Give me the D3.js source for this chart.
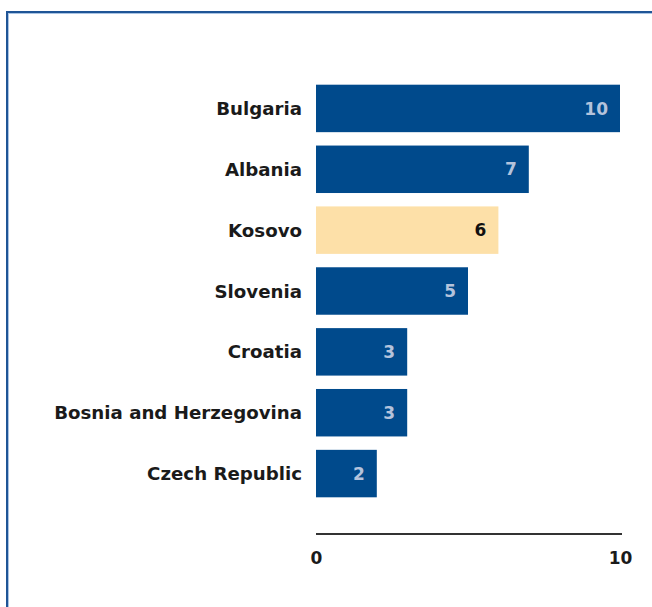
<!DOCTYPE html>
<html><head><meta charset="utf-8">
<script src="https://cdn.jsdelivr.net/npm/d3@7/dist/d3.min.js"></script>
<style>body{margin:0;background:#fff;}svg{display:block;}</style>
</head><body>
<script>
const categories = ["Bulgaria","Albania","Kosovo","Slovenia","Croatia","Bosnia and Herzegovina","Czech Republic"];
const values = [10,7,6,5,3,3,2];
const highlight = ["Kosovo"];
const tickValues = [0,10];

const W = 652, H = 607;
const svg = d3.select("body").append("svg").attr("width", W).attr("height", H);
// frame
svg.append("rect").attr("x",7).attr("y",12).attr("width",W).attr("height",H).attr("fill","none").attr("stroke","#1f5596").attr("stroke-width",2);
svg.append("rect").attr("x",8.5).attr("y",13.5).attr("width",W).attr("height",H).attr("fill","none").attr("stroke","#a9c4e4").attr("stroke-width",1);

const x = d3.scaleLinear().domain([0,10]).range([316,620]);
const y = d3.scaleBand().domain(categories).range([78,504]).paddingInner(0.22).paddingOuter(0.11);
const font = "Tahoma, 'DejaVu Sans', Verdana, sans-serif";

const data = categories.map((c,i)=>({c, v:values[i]}));
svg.selectAll("rect.bar").data(data).enter().append("rect").attr("class","bar")
  .attr("x", x(0)).attr("y", d=>y(d.c)).attr("width", d=>x(d.v)-x(0)).attr("height", y.bandwidth())
  .attr("fill", d=>highlight.includes(d.c) ? "#fde0a8" : "#004a8c");
svg.selectAll("text.val").data(data).enter().append("text").attr("class","val")
  .attr("x", d=>x(d.v)-12).attr("y", d=>y(d.c)+y.bandwidth()/2).attr("dy","0.36em")
  .attr("text-anchor","end").attr("font-family",font).attr("font-weight","bold").attr("font-size",17)
  .attr("fill", d=>highlight.includes(d.c) ? "#111" : "#b4c3dc").text(d=>d.v);
svg.selectAll("text.cat").data(data).enter().append("text").attr("class","cat")
  .attr("x", 302).attr("y", d=>y(d.c)+y.bandwidth()/2).attr("dy","0.36em")
  .attr("text-anchor","end").attr("font-family",font).attr("font-weight","bold").attr("font-size",18.2)
  .attr("fill","#1a1a1a").text(d=>d.c);

const axis = d3.axisBottom(x).tickValues(tickValues).tickSize(0).tickPadding(18).tickFormat(d3.format("d"));
const g = svg.append("g").attr("transform","translate(0,534)").call(axis);
g.select(".domain").attr("d", "M316,0H622").attr("stroke","#333").attr("stroke-width",2);
g.selectAll("text").attr("font-family",font).attr("font-weight","bold").attr("font-size",17).attr("fill","#1a1a1a");
</script>
</body></html>
